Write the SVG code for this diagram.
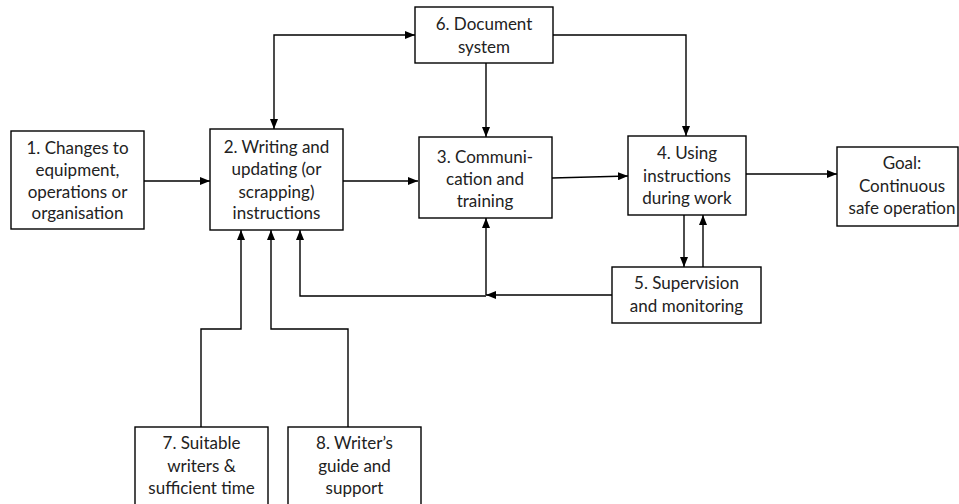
<svg xmlns="http://www.w3.org/2000/svg" width="959" height="504" viewBox="0 0 959 504">
<style>
.box{fill:#fff;stroke:#000;stroke-width:1.4}
.lbl{font-family:Lato,"Open Sans","Liberation Sans",sans-serif;font-size:17px;fill:#222;text-anchor:middle}
.ln{fill:none;stroke:#000;stroke-width:1.4}
</style>
<defs>
<marker id="ah" markerUnits="userSpaceOnUse" markerWidth="10" markerHeight="8" viewBox="0 0 10 8" refX="10" refY="4" orient="auto-start-reverse">
<path d="M0,0 L10,4 L0,8 Z" fill="#000"/>
</marker>
</defs>
<rect width="959" height="504" fill="#fff"/>
<g id="connectors">
<path class="ln" d="M144,181 H210" marker-end="url(#ah)"/>
<path class="ln" d="M274,129 V35 H415" marker-start="url(#ah)" marker-end="url(#ah)"/>
<path class="ln" d="M486,63 V137" marker-end="url(#ah)"/>
<path class="ln" d="M553,35 H686 V136" marker-end="url(#ah)"/>
<path class="ln" d="M343,181 H418" marker-end="url(#ah)"/>
<path class="ln" d="M552,178 L628,176" marker-end="url(#ah)"/>
<path class="ln" d="M746,174 H837" marker-end="url(#ah)"/>
<path class="ln" d="M684,215 V267" marker-end="url(#ah)"/>
<path class="ln" d="M703,267 V215" marker-end="url(#ah)"/>
<path class="ln" d="M612,295 H486" marker-end="url(#ah)"/>
<path class="ln" d="M486,295 V218" marker-end="url(#ah)"/>
<path class="ln" d="M486,296 H300 V230" marker-end="url(#ah)"/>
<path class="ln" d="M201,427 V329 H241 V230" marker-end="url(#ah)"/>
<path class="ln" d="M348,427 V329 H271 V230" marker-end="url(#ah)"/>
</g>
<g id="n1">
<rect class="box" x="11" y="131" width="133" height="98"/>
<text class="lbl" x="77.5" y="154">1. Changes to</text>
<text class="lbl" x="77.5" y="175.5">equipment,</text>
<text class="lbl" x="77.5" y="197.5">operations or</text>
<text class="lbl" x="77.5" y="219">organisation</text>
</g>
<g id="n2">
<rect class="box" x="210" y="129" width="133" height="101"/>
<text class="lbl" x="276.5" y="153">2. Writing and</text>
<text class="lbl" x="276.5" y="175">updating (or</text>
<text class="lbl" x="276.5" y="197.5">scrapping)</text>
<text class="lbl" x="276.5" y="218.5">instructions</text>
</g>
<g id="n6">
<rect class="box" x="415" y="7" width="138" height="56"/>
<text class="lbl" x="484" y="30">6. Document</text>
<text class="lbl" x="484" y="53">system</text>
</g>
<g id="n3">
<rect class="box" x="419" y="137" width="133" height="81"/>
<text class="lbl" x="485" y="163">3. Communi-</text>
<text class="lbl" x="485" y="185">cation and</text>
<text class="lbl" x="485" y="207">training</text>
</g>
<g id="n4">
<rect class="box" x="628" y="136" width="118" height="79"/>
<text class="lbl" x="687" y="159">4. Using</text>
<text class="lbl" x="687" y="182">instructions</text>
<text class="lbl" x="687" y="204">during work</text>
</g>
<g id="goal">
<rect class="box" x="837" y="147" width="121" height="79"/>
<text class="lbl" x="902" y="169">Goal:</text>
<text class="lbl" x="902" y="191.5">Continuous</text>
<text class="lbl" x="902" y="214">safe operation</text>
</g>
<g id="n5">
<rect class="box" x="612" y="267" width="149" height="56"/>
<text class="lbl" x="686.5" y="289">5. Supervision</text>
<text class="lbl" x="686.5" y="312">and monitoring</text>
</g>
<g id="n7">
<rect class="box" x="135" y="427" width="133" height="85"/>
<text class="lbl" x="201.5" y="449">7. Suitable</text>
<text class="lbl" x="201.5" y="471.5">writers &amp;</text>
<text class="lbl" x="201.5" y="494">sufficient time</text>
</g>
<g id="n8">
<rect class="box" x="288" y="427" width="133" height="85"/>
<text class="lbl" x="354.5" y="449">8. Writer’s</text>
<text class="lbl" x="354.5" y="471.5">guide and</text>
<text class="lbl" x="354.5" y="494">support</text>
</g>
</svg>
